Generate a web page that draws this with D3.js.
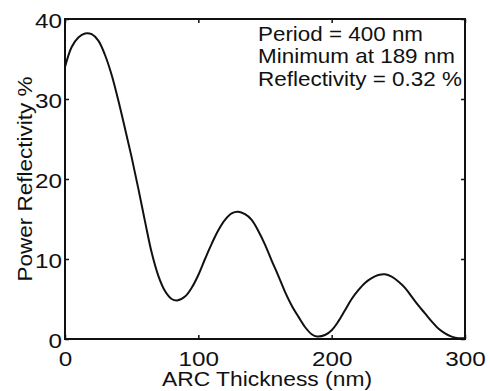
<!DOCTYPE html>
<html>
<head>
<meta charset="utf-8">
<script src="https://cdn.jsdelivr.net/npm/d3@7"></script>
<style>
  body { margin: 0; background: #fff; }
  svg { display: block; font-family: "Liberation Sans", Arial, sans-serif; }
</style>
</head>
<body>
<div id="chart"></div>
<script>
// ARC thickness (nm) vs power reflectivity (%)
const thickness = [0, 5, 10, 15, 20, 25, 30, 35, 40, 45, 50, 55, 60, 65, 70, 75, 80, 84, 90, 95,
  100, 105, 110, 115, 120, 125, 130, 135, 140, 145, 150, 155, 160, 165, 170, 175, 180, 185, 189,
  195, 200, 205, 210, 215, 220, 225, 230, 235, 240, 245, 250, 255, 260, 265, 270, 275, 280, 285,
  290, 295, 300];
const reflectivity = [34.0, 36.5, 37.7, 38.2, 38.1, 37.3, 35.5, 33.0, 29.8, 26.3, 22.7, 18.8, 14.7, 10.8, 7.9, 6.0, 5.0, 4.8, 5.3, 6.4,
  8.0, 10.0, 11.9, 13.6, 14.9, 15.7, 15.9, 15.6, 14.9, 13.5, 11.8, 9.8, 7.9, 5.9, 4.2, 2.8, 1.5, 0.6, 0.32,
  0.5, 1.1, 2.2, 3.6, 5.0, 6.1, 7.0, 7.6, 8.0, 8.1, 7.8, 7.2, 6.4, 5.3, 4.2, 3.2, 2.2, 1.3, 0.7,
  0.3, 0.1, 0.1];
const xTicks = [0, 100, 200, 300];
const yTicks = [0, 10, 20, 30, 40];
const notes = ["Period = 400 nm", "Minimum at 189 nm", "Reflectivity = 0.32 %"];

const width = 490;
const height = 391;
const margin = {top: 19, right: 24, bottom: 52, left: 65};
const ink = "#111";
// the scanned lettering is a little wider than Arial, so stretch it
const digitW = 13.5;
const noteW = [165, 197, 204];

const data = thickness.map((t, i) => [t, reflectivity[i]]);

const x = d3.scaleLinear().domain([0, 300]).range([margin.left, width - margin.right - 1]);
const y = d3.scaleLinear().domain([0, 40]).range([height - margin.bottom, margin.top]);

const svg = d3.select("#chart").append("svg")
  .attr("width", width)
  .attr("height", height);

// inward ticks on all four sides, labels only bottom/left
function styleAxis(g) {
  g.select(".domain").remove();
  g.selectAll(".tick line").attr("stroke", ink).attr("stroke-width", 1.5);
  g.selectAll(".tick text")
    .attr("fill", ink)
    .style("font-size", "21px")
    .attr("textLength", d => String(d).length * digitW)
    .attr("lengthAdjust", "spacingAndGlyphs");
}

svg.append("g")
  .attr("transform", `translate(0,${y(0)})`)
  .call(d3.axisBottom(x).tickValues(xTicks).tickSizeInner(-4).tickSizeOuter(0))
  .call(styleAxis)
  .selectAll(".tick text").attr("y", 27).attr("dy", 0);

svg.append("g")
  .attr("transform", `translate(0,${y(40)})`)
  .call(d3.axisTop(x).tickValues(xTicks).tickSizeInner(-4).tickSizeOuter(0).tickFormat(""))
  .call(styleAxis);

svg.append("g")
  .attr("transform", `translate(${x(0)},0)`)
  .call(d3.axisLeft(y).tickValues(yTicks).tickSizeInner(-4).tickSizeOuter(0))
  .call(styleAxis)
  .selectAll(".tick text").attr("x", -3).attr("dy", "0.42em");

svg.append("g")
  .attr("transform", `translate(${x(300)},0)`)
  .call(d3.axisRight(y).tickValues(yTicks).tickSizeInner(-4).tickSizeOuter(0).tickFormat(""))
  .call(styleAxis);

// frame
svg.append("rect")
  .attr("x", x(0))
  .attr("y", y(40))
  .attr("width", x(300) - x(0))
  .attr("height", y(0) - y(40))
  .attr("fill", "none")
  .attr("stroke", ink)
  .attr("stroke-width", 2);

const line = d3.line()
  .x(d => x(d[0]))
  .y(d => y(d[1]))
  .curve(d3.curveCatmullRom);

svg.append("path")
  .datum(data)
  .attr("fill", "none")
  .attr("stroke", ink)
  .attr("stroke-width", 2)
  .attr("d", line);

svg.append("text")
  .attr("x", 267)
  .attr("y", 386)
  .attr("text-anchor", "middle")
  .attr("fill", ink)
  .style("font-size", "20px")
  .attr("textLength", 210)
  .attr("lengthAdjust", "spacingAndGlyphs")
  .text("ARC Thickness (nm)");

svg.append("text")
  .attr("transform", `translate(32,${(y(0) + y(40)) / 2}) rotate(-90)`)
  .attr("text-anchor", "middle")
  .attr("fill", ink)
  .style("font-size", "20px")
  .attr("textLength", 205)
  .attr("lengthAdjust", "spacingAndGlyphs")
  .text("Power Reflectivity %");

svg.append("g")
  .selectAll("text")
  .data(notes)
  .join("text")
  .attr("x", 258)
  .attr("y", (d, i) => 40.7 + i * 22.7)
  .attr("fill", ink)
  .style("font-size", "21px")
  .attr("textLength", (d, i) => noteW[i])
  .attr("lengthAdjust", "spacingAndGlyphs")
  .text(d => d);
</script>
</body>
</html>
